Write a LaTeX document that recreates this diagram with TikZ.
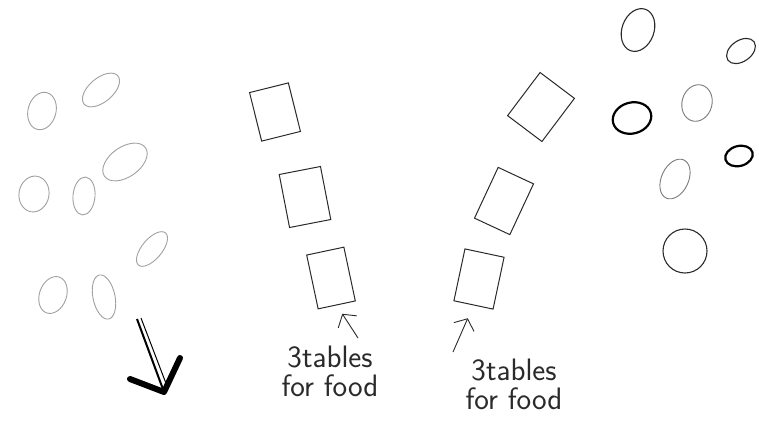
\documentclass[tikz,border=0pt]{standalone}
\usepackage{fontspec}
\usepackage{tikz}
\usetikzlibrary{arrows.meta,shapes.geometric}
\definecolor{pencil}{HTML}{2A2A2A}
\definecolor{softpencil}{HTML}{7A7A7A}
\definecolor{faint}{HTML}{A0A0A0}
\tikzset{
  foodtable/.style={draw=pencil,line width=1pt,rectangle,inner sep=0pt},
  seat/.style={draw=faint,line width=0.9pt,ellipse,inner sep=0pt},
  guest/.style={draw=pencil,line width=1.1pt,ellipse,inner sep=0pt},
  softguest/.style={guest,draw=softpencil,line width=0.9pt},
  boldguest/.style={guest,draw=black,line width=2.2pt},
  note/.style={font=\sffamily\fontsize{31}{29}\selectfont,text=pencil,align=center,inner sep=0pt},
  pointer/.style={-{Straight Barb[length=9pt,width=22pt]},draw=pencil,line width=0.9pt},
}

\begin{document}
\begin{tikzpicture}[x=1pt,y=-1pt]
  \useasboundingbox (0,0) rectangle (759,429);
  % seats on the left
  \foreach \n/\x/\y/\w/\h/\r in {a/42/111/28/38/-15,b/101/90/44/24/40,c/125/162/50/30/35,d/34/194/30/36/-10,e/84/196/22/38/-5,f/152/249/42/20/50,g/53/295/27/38/-20,h/104/297/22/45/12}
    \node[seat,minimum width=\w pt,minimum height=\h pt,rotate=\r] (s\n) at (\x,\y) {};
  % two rows of tables
  \node[foodtable,minimum width=40pt,minimum height=50pt,rotate=14] (t1) at (275,112) {};
  \node[foodtable,minimum width=42pt,minimum height=54pt,rotate=11] (t2) at (305,197) {};
  \node[foodtable,minimum width=38pt,minimum height=55pt,rotate=12] (t3) at (331,278) {};
  \node[foodtable,minimum width=43pt,minimum height=54pt,rotate=-37] (t4) at (541,107) {};
  \node[foodtable,minimum width=39pt,minimum height=56pt,rotate=-25] (t5) at (504,201) {};
  \node[foodtable,minimum width=40pt,minimum height=53pt,rotate=-12] (t6) at (479,279) {};
  % guests on the right
  \node[guest,minimum width=32pt,minimum height=44pt,rotate=-20] (g1) at (638,30) {};
  \node[guest,minimum width=32pt,minimum height=21pt,rotate=35] (g2) at (741,51) {};
  \node[softguest,minimum width=30pt,minimum height=37pt,rotate=-15] (g3) at (697,103) {};
  \node[boldguest,minimum width=39pt,minimum height=31pt,rotate=15] (g4) at (632,118) {};
  \node[boldguest,minimum width=28pt,minimum height=20pt,rotate=15] (g5) at (739,156) {};
  \node[softguest,minimum width=27pt,minimum height=42pt,rotate=-25] (g6) at (675,179) {};
  \node[guest,minimum width=44pt,minimum height=44pt] (g7) at (685,251) {};
  % labels
  \node[note,anchor=north] (l1) at (330,346) {3tables\\for food};
  \node[note,anchor=north] (l2) at (514,359) {3tables\\for food};
  \coordinate (p1) at (358,338);
  \coordinate (p2) at (453,352);
  \draw[pointer,shorten >=10pt] (p1) -- (t3.south);
  \draw[pointer,shorten >=14pt] (p2) -- (t6.south);
  % big arrow, bottom left
  \coordinate (tail) at (137,319);
  \coordinate (tip) at (164,392);
  \draw[black,line width=2pt] (tail) -- (tip);
  \draw[black,line width=1pt] (141,318) -- (167,386);
  \draw[black,line width=6pt,line cap=round,line join=round] (130,379) -- (tip) -- (180,358);
\end{tikzpicture}
\end{document}
